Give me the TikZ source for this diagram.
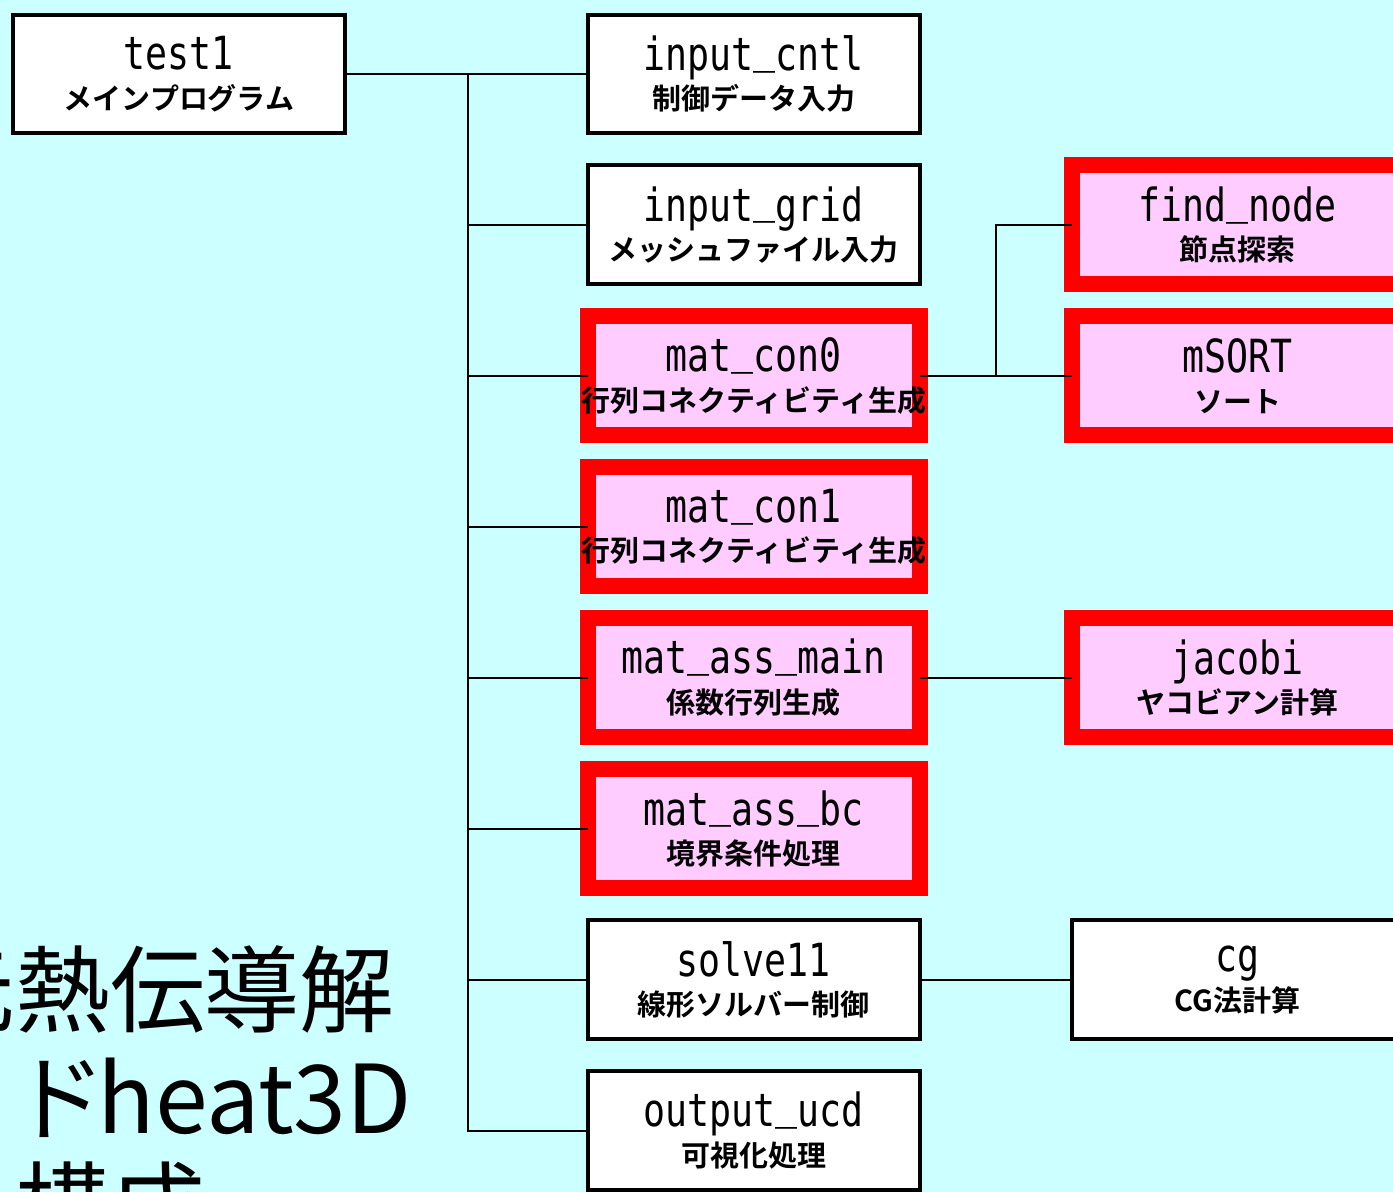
\documentclass[tikz,border=0pt]{standalone}
\usepackage{fontspec}
\usepackage{xcolor}
\setmainfont{Noto Sans CJK JP}
\newfontfamily\namefont[FakeStretch=0.8]{DejaVu Sans Mono}
\newfontfamily\jpfont[BoldFont={Noto Sans CJK JP Bold}]{Noto Sans CJK JP}
\newfontfamily\titlefont[RawFeature=+palt]{Noto Sans CJK JP}
\definecolor{bgcyan}{RGB}{204,255,255}
\definecolor{boxpink}{RGB}{255,204,255}
\newcommand{\us}{\raisebox{0.18em}{\char`\_}}
\newcommand{\subtxt}[1]{\makebox[0pt]{\jpfont\bfseries\fontsize{16.5}{20}\selectfont #1}}

\begin{document}
\begin{tikzpicture}[x=0.02cm, y=-0.02cm, node distance=3.02cm,
box/.style={draw=black, line width=0.08cm, fill=white, minimum width=6.64cm, minimum height=2.38cm, outer sep=0pt, inner sep=0pt, align=center, font=\namefont\fontsize{26}{24}\selectfont},
redbox/.style={box, draw=red, line width=0.32cm, fill=boxpink},
link/.style={line width=0.04cm},
title/.style={font=\titlefont\fontsize{54}{54}\selectfont, inner sep=0pt}]

\useasboundingbox (0,0) rectangle (1393,1192);
\fill[bgcyan] (0,0) rectangle (1393,1192);

\node[title, anchor=base west] (head1) at (-80,1025) {元熱伝導解};
\node[title, anchor=base west] (head2) at (22,1133) {ドheat3D};
\node[title, anchor=base west] (head3) at (15,1241) {構成};

\node[box] (test1) at (179,74) {test1\\[-1.5pt]\subtxt{メインプログラム}};
\node[box, right of=test1, xshift=8.48cm] (cntl) {input\us cntl\\[-1.5pt]\subtxt{制御データ入力}};
\node[box, below of=cntl] (grid) {input\us grid\\[-1.5pt]\subtxt{メッシュファイル入力}};
\node[redbox, below of=grid] (con0) {mat\us con0\\[-1.5pt]\subtxt{行列コネクティビティ生成}};
\node[redbox, below of=con0] (con1) {mat\us con1\\[-1.5pt]\subtxt{行列コネクティビティ生成}};
\node[redbox, below of=con1] (main) {mat\us ass\us main\\[-1.5pt]\subtxt{係数行列生成}};
\node[redbox, below of=main] (bc) {mat\us ass\us bc\\[-1.5pt]\subtxt{境界条件処理}};
\node[box, below of=bc] (solve) {solve11\\[-1.5pt]\subtxt{線形ソルバー制御}};
\node[box, below of=solve] (ucd) {output\us ucd\\[-1.5pt]\subtxt{可視化処理}};

\node[redbox, right of=con0, xshift=6.66cm] (sort) {mSORT\\[-1.5pt]\subtxt{ソート}};
\node[redbox, above of=sort] (find) {find\us node\\[-1.5pt]\subtxt{節点探索}};
\node[redbox, right of=main, xshift=6.66cm] (jacobi) {jacobi\\[-1.5pt]\subtxt{ヤコビアン計算}};
\node[box, right of=solve, xshift=6.66cm] (cg) {cg\\[-1.5pt]\subtxt{CG法計算}};

\coordinate (trunk) at (468,74);
\coordinate (split) at (996,376);

\draw[link] (test1) -- (cntl);
\draw[link] (trunk) |- (grid);
\draw[link] (trunk) |- (con0);
\draw[link] (trunk) |- (con1);
\draw[link] (trunk) |- (main);
\draw[link] (trunk) |- (bc);
\draw[link] (trunk) |- (solve);
\draw[link] (trunk) |- (ucd);

\draw[link] (con0) -- (sort);
\draw[link] (split) |- (find);
\draw[link] (main) -- (jacobi);
\draw[link] (solve) -- (cg);

\end{tikzpicture}
\end{document}
